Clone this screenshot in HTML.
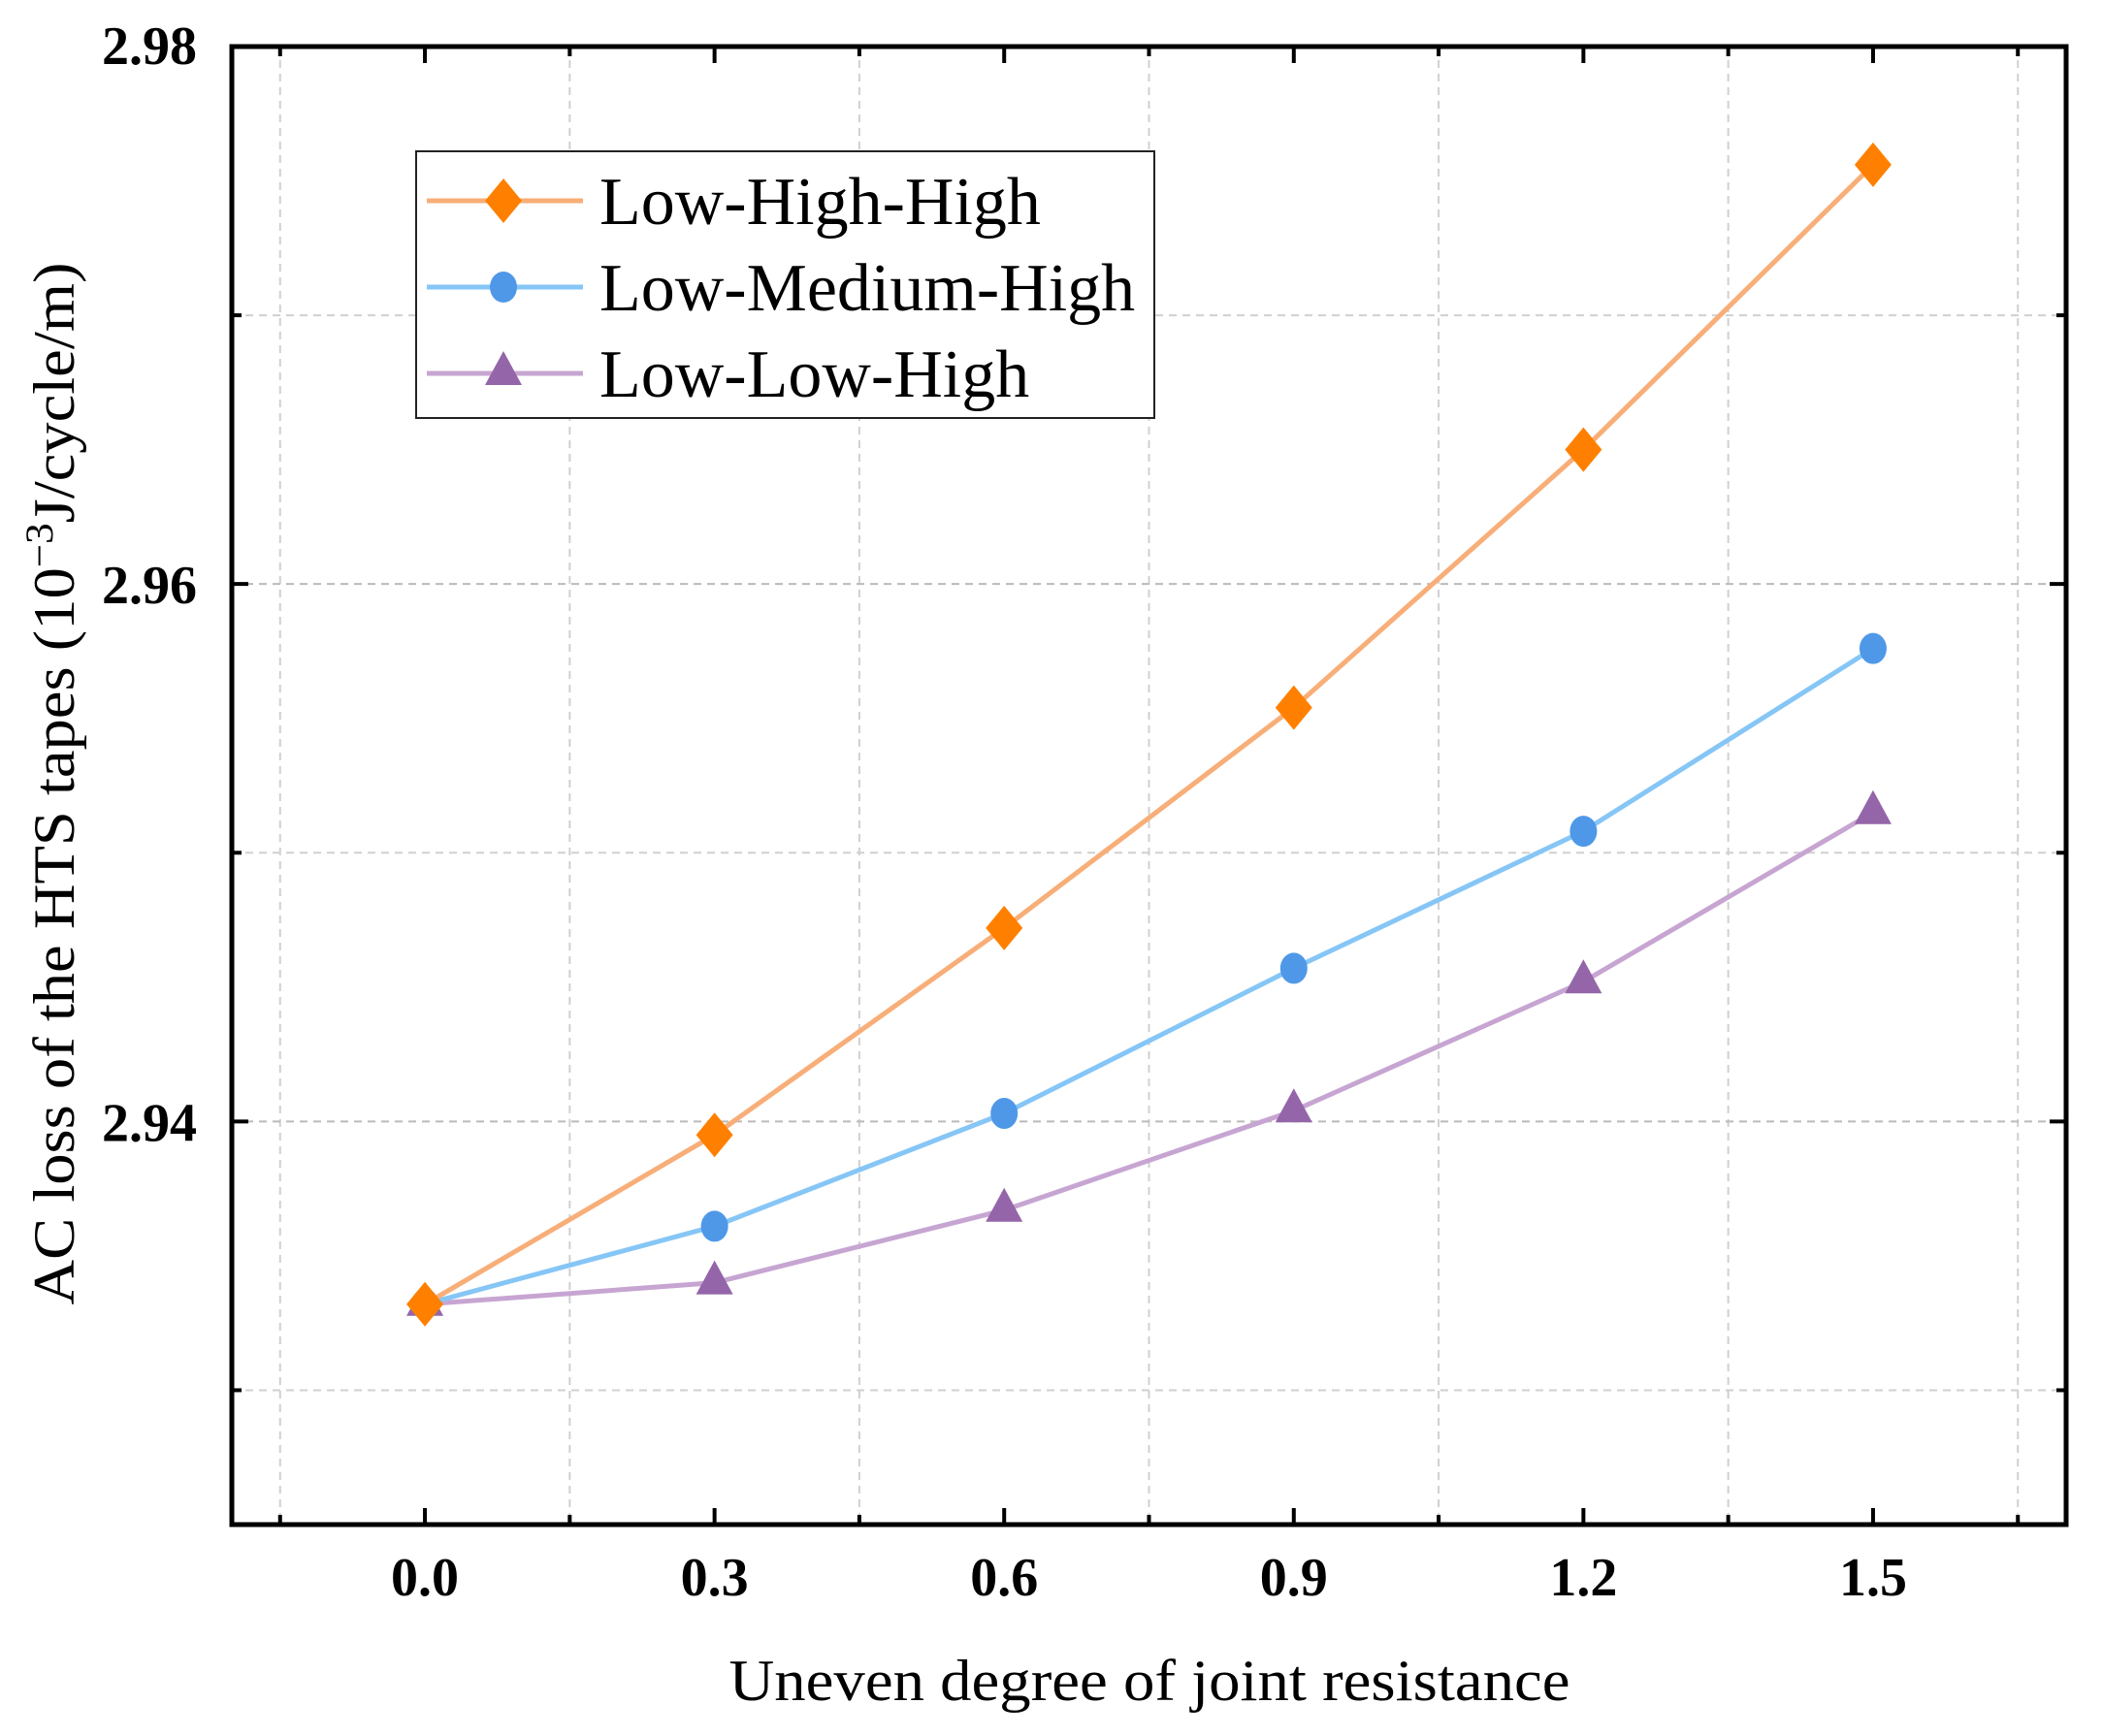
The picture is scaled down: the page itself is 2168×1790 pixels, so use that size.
<!DOCTYPE html>
<html><head><meta charset="utf-8"><style>
html,body{margin:0;padding:0;background:#fff;}
svg{display:block;font-family:"Liberation Serif",serif;}
</style></head><body>
<svg id="chart" width="2168" height="1790" viewBox="0 0 2168 1790" xmlns="http://www.w3.org/2000/svg">
<g id="grid"></g>
<g id="series"></g>
<rect x="239" y="48" width="1891" height="1524" fill="none" stroke="#000" stroke-width="5"/>
<g id="ticks"></g>
<text x="1185" y="1753" font-size="60" text-anchor="middle" textLength="867" lengthAdjust="spacingAndGlyphs">Uneven degree of joint resistance</text>
<text transform="translate(76,808) rotate(-90)" font-size="60" text-anchor="middle" textLength="1075" lengthAdjust="spacingAndGlyphs">AC loss of the HTS tapes (10<tspan baseline-shift="super" font-size="40">−3</tspan>J/cycle/m)</text>
<g>
<rect x="429" y="156" width="761" height="275" fill="#fff" stroke="#222" stroke-width="2"/>
<g id="legend-items"></g>
</g>
</svg>
<script>
const categories=[0.0,0.3,0.6,0.9,1.2,1.5];
const xTickLabels=["0.0","0.3","0.6","0.9","1.2","1.5"];
const yTickValues=[2.94,2.96,2.98];
const yTickLabels=["2.94","2.96","2.98"];
const seriesNames=["Low-High-High","Low-Medium-High","Low-Low-High"];
const lowHighHigh=[2.9332,2.9395,2.9472,2.9554,2.9650,2.9756];
const lowMediumHigh=[2.9332,2.9361,2.9403,2.9457,2.9508,2.9576];
const lowLowHigh=[2.9332,2.9340,2.9367,2.9404,2.9452,2.9515];

const NS="http://www.w3.org/2000/svg";
const L=239,R=2130,T=48,B=1572;
const xMin=-0.2,xMax=1.7,yMin=2.925,yMax=2.98;
function xs(v){return L+(v-xMin)/(xMax-xMin)*(R-L);}
function ys(v){return B-(v-yMin)/(yMax-yMin)*(B-T);}
function mk(tag,attrs,parent){const e=document.createElementNS(NS,tag);for(const k in attrs)e.setAttribute(k,attrs[k]);parent.appendChild(e);return e;}
const grid=document.getElementById('grid'),ticks=document.getElementById('ticks'),ser=document.getElementById('series');
// vertical grid at minor x positions, ticks
for(let i=-1;i<=11;i++){const v=i*0.15;const x=xs(v);if(x<L+2||x>R-2)continue;
 const major=(i%2===0);
 if(!major){const g=mk('line',{x1:x,x2:x,y1:T,y2:B,stroke:'#d0d0d0','stroke-width':2,'stroke-dasharray':'8 6'},grid);
 
 }
 const len=major?17:10;
 const t1=mk('line',{x1:x,x2:x,y1:B,y2:B-len,stroke:'#000','stroke-width':4},ticks);
 
 
 const t2=mk('line',{x1:x,x2:x,y1:T,y2:T+len,stroke:'#000','stroke-width':4},ticks);
 
 }
xTickLabels.forEach((s,i)=>{const t=mk('text',{x:xs(categories[i]),y:1645,'font-size':56,'font-weight':'bold','text-anchor':'middle'},ticks);t.textContent=s;
 
 });
for(let i=0;i<=5;i++){const v=2.93+i*0.01;const y=ys(v);const major=(i%2===1);
 const g=mk('line',{x1:L,x2:R,y1:y,y2:y,stroke:major?'#bbb':'#d0d0d0','stroke-width':2,'stroke-dasharray':'8 6'},grid);
 
 
 const len=major?17:10;
 const t1=mk('line',{x1:L,x2:L+len,y1:y,y2:y,stroke:'#000','stroke-width':4},ticks);
 
 
 const t2=mk('line',{x1:R,x2:R-len,y1:y,y2:y,stroke:'#000','stroke-width':4},ticks);
 
 }
yTickValues.forEach((v,i)=>{const t=mk('text',{x:203,y:ys(v)+(i===2?18:20),'font-size':56,'font-weight':'bold','text-anchor':'end'},ticks);t.textContent=yTickLabels[i];
 
 });
const lineCols=['#f8ae78','#86c6f6','#c7a5d2'],markCols=['#ff8000','#4f98e8','#9465a8'],shapes=['diamond','circle','triangle'];
function marker(shape,x,y,col,parent){let e;
 if(shape==='diamond')e=mk('polygon',{points:`${x},${y-23} ${x+19},${y} ${x},${y+23} ${x-19},${y}`,fill:col},parent);
 else if(shape==='circle')e=mk('ellipse',{cx:x,cy:y,rx:14,ry:16,fill:col},parent);
 else e=mk('polygon',{points:`${x},${y-23} ${x+19},${y+12} ${x-19},${y+12}`,fill:col},parent);
 return e;}
const allData=[lowHighHigh,lowMediumHigh,lowLowHigh];
[2,1,0].forEach(s=>{const d=allData[s];
 const pl=mk('polyline',{points:d.map((v,i)=>xs(categories[i])+','+ys(v)).join(' '),fill:'none',stroke:lineCols[s],'stroke-width':5},ser);
 
 });
[2,1,0].forEach(s=>{const d=allData[s];
 d.forEach((v,i)=>{const m=marker(shapes[s],xs(categories[i]),ys(v),markCols[s],ser);
 
 });});
const li=document.getElementById('legend-items');
seriesNames.forEach((n,s)=>{const y=207+s*89;
 const l=mk('line',{x1:440,x2:601,y1:y,y2:y,stroke:lineCols[s],'stroke-width':5},li);
 
 
 const m=marker(shapes[s],519,y,markCols[s],li);
 
 
 const t=mk('text',{x:618,y:y+24,'font-size':70},li);t.textContent=n;
 
 });
</script>
</body></html>
